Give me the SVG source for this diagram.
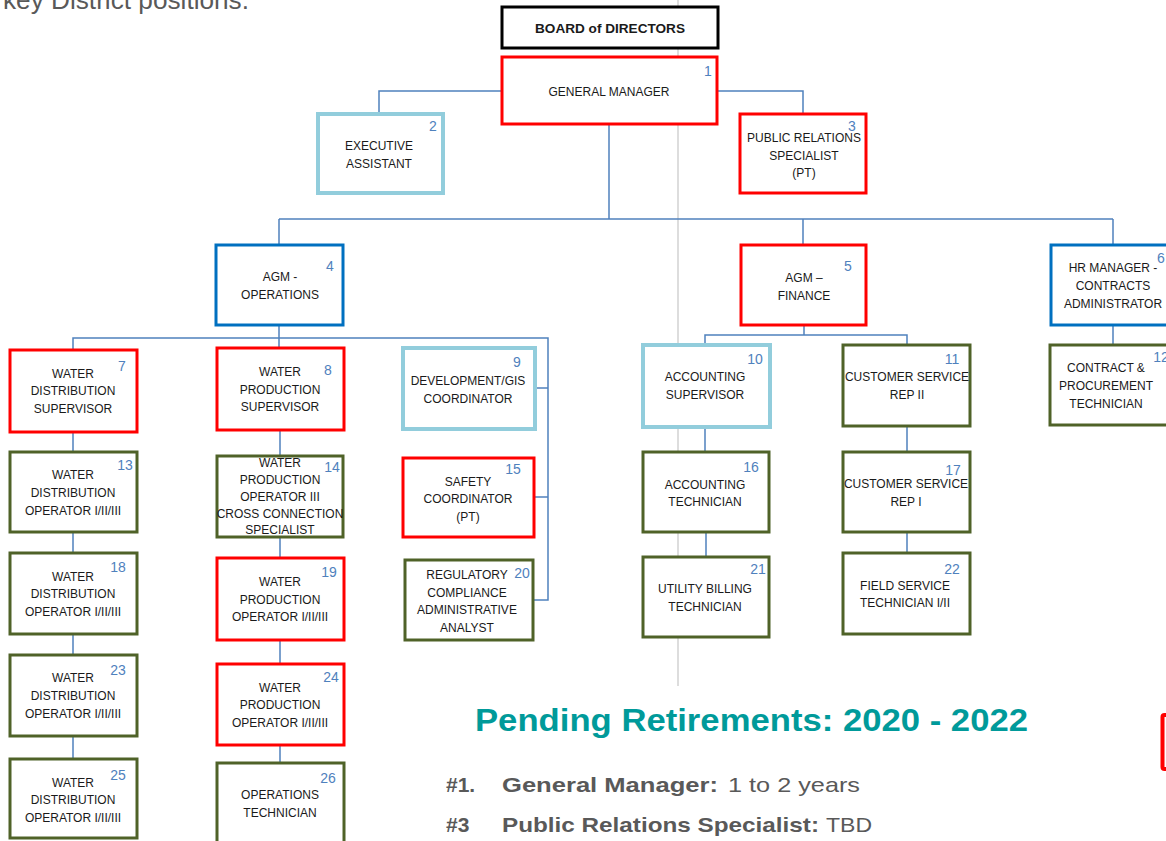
<svg xmlns="http://www.w3.org/2000/svg" width="1166" height="841" viewBox="0 0 1166 841">
  <style>
    .box { fill: #ffffff; stroke-width: 3; }
    .red { stroke: #ff0000; }
    .lblue { stroke: #92cddc; stroke-width: 4; }
    .blue { stroke: #0070c0; }
    .green { stroke: #4f6228; }
    .black { stroke: #000000; }
    .t { font-family: "Liberation Sans", Arial, sans-serif; font-size: 12px; fill: #1a1a1a; text-anchor: middle; }
    .n { font-family: "Liberation Sans", Arial, sans-serif; font-size: 14px; fill: #4f81bd; text-anchor: middle; }
    .conn { fill: none; stroke: #4f81bd; stroke-width: 1.5; }
    .gray { font-family: "Liberation Sans", Arial, sans-serif; fill: #595959; }
  </style>

  <rect width="1166" height="841" fill="#ffffff"/>

  <!-- slide divider -->
  <line x1="678" y1="0" x2="678" y2="686" stroke="#dddddd" stroke-width="2"/>

  <!-- heading remnant -->
  <text class="gray" x="3" y="9" font-size="25" textLength="246" lengthAdjust="spacingAndGlyphs">key District positions.</text>

  <!-- connectors -->
  <g id="connectors" class="conn">
    <polyline points="502,91 379,91 379,114"/>
    <polyline points="717,91 803,91 803,114"/>
    <line x1="609" y1="124" x2="609" y2="219"/>
    <line x1="279" y1="219" x2="1113" y2="219"/>
    <line x1="279" y1="219" x2="279" y2="245"/>
    <line x1="803" y1="219" x2="803" y2="245"/>
    <line x1="1113" y1="219" x2="1113" y2="245"/>
    <line x1="1113" y1="325" x2="1113" y2="345"/>
    <!-- operations branch -->
    <line x1="279" y1="325" x2="279" y2="348"/>
    <polyline points="73,350 73,338 548,338 548,600 533,600"/>
    <line x1="535" y1="388" x2="548" y2="388"/>
    <line x1="535" y1="497" x2="548" y2="497"/>
    <line x1="73" y1="432" x2="73" y2="452"/>
    <line x1="73" y1="532" x2="73" y2="553"/>
    <line x1="73" y1="634" x2="73" y2="655"/>
    <line x1="73" y1="736" x2="73" y2="759"/>
    <line x1="280" y1="430" x2="280" y2="456"/>
    <line x1="280" y1="537" x2="280" y2="558"/>
    <line x1="280" y1="640" x2="280" y2="664"/>
    <line x1="280" y1="745" x2="280" y2="763"/>
    <!-- finance branch -->
    <line x1="804" y1="325" x2="804" y2="335"/>
    <polyline points="705,345 705,335 907,335 907,345"/>
    <line x1="705" y1="427" x2="705" y2="452"/>
    <line x1="706" y1="532" x2="706" y2="557"/>
    <line x1="907" y1="426" x2="907" y2="452"/>
    <line x1="907" y1="532" x2="907" y2="553"/>
  </g>

  <g id="board">
    <rect class="box black" x="502" y="7" width="216" height="41"/>
    <text class="t" x="610" y="33" font-weight="bold" font-size="13.5" textLength="150" lengthAdjust="spacingAndGlyphs">BOARD of DIRECTORS</text>
  </g>

  <g id="n1">
    <rect class="box red" x="502" y="57" width="215" height="67"/>
    <text class="n" x="708" y="76">1</text>
    <text class="t" x="609" y="96" font-size="12.5">GENERAL MANAGER</text>
  </g>

  <g id="n2">
    <rect class="box lblue" x="318" y="114" width="125" height="79"/>
    <text class="n" x="433" y="131">2</text>
    <text class="t" x="379" y="150">EXECUTIVE</text>
    <text class="t" x="379" y="168">ASSISTANT</text>
  </g>

  <g id="n3">
    <rect class="box red" x="740" y="114" width="126" height="79"/>
    <text class="n" x="852" y="131">3</text>
    <text class="t" x="804" y="142">PUBLIC RELATIONS</text>
    <text class="t" x="804" y="160">SPECIALIST</text>
    <text class="t" x="804" y="177">(PT)</text>
  </g>

  <g id="n4">
    <rect class="box blue" x="216" y="245" width="127" height="80"/>
    <text class="n" x="330" y="271">4</text>
    <text class="t" x="280" y="281">AGM -</text>
    <text class="t" x="280" y="299">OPERATIONS</text>
  </g>

  <g id="n5">
    <rect class="box red" x="741" y="245" width="125" height="80"/>
    <text class="n" x="848" y="271">5</text>
    <text class="t" x="804" y="282">AGM –</text>
    <text class="t" x="804" y="300">FINANCE</text>
  </g>

  <g id="n6">
    <rect class="box blue" x="1051" y="245" width="130" height="80"/>
    <text class="n" x="1161" y="263">6</text>
    <text class="t" x="1113" y="272">HR MANAGER -</text>
    <text class="t" x="1113" y="290">CONTRACTS</text>
    <text class="t" x="1113" y="308">ADMINISTRATOR</text>
  </g>

  <g id="n12">
    <rect class="box green" x="1050" y="345" width="130" height="80"/>
    <text class="n" x="1161" y="362">12</text>
    <text class="t" x="1106" y="372">CONTRACT &amp;</text>
    <text class="t" x="1106" y="390">PROCUREMENT</text>
    <text class="t" x="1106" y="408">TECHNICIAN</text>
  </g>

  <g id="n7">
    <rect class="box red" x="10" y="350" width="127" height="82"/>
    <text class="n" x="122" y="371">7</text>
    <text class="t" x="73" y="378">WATER</text>
    <text class="t" x="73" y="395">DISTRIBUTION</text>
    <text class="t" x="73" y="413">SUPERVISOR</text>
  </g>

  <g id="n8">
    <rect class="box red" x="217" y="348" width="127" height="82"/>
    <text class="n" x="328" y="375">8</text>
    <text class="t" x="280" y="376">WATER</text>
    <text class="t" x="280" y="394">PRODUCTION</text>
    <text class="t" x="280" y="411">SUPERVISOR</text>
  </g>

  <g id="n9">
    <rect class="box lblue" x="403" y="348" width="132" height="81"/>
    <text class="n" x="517" y="367">9</text>
    <text class="t" x="468" y="385">DEVELOPMENT/GIS</text>
    <text class="t" x="468" y="403">COORDINATOR</text>
  </g>

  <g id="n10">
    <rect class="box lblue" x="643" y="345" width="127" height="82"/>
    <text class="n" x="755" y="364">10</text>
    <text class="t" x="705" y="381">ACCOUNTING</text>
    <text class="t" x="705" y="399">SUPERVISOR</text>
  </g>

  <g id="n11">
    <rect class="box green" x="843" y="345" width="127" height="81"/>
    <text class="n" x="952" y="364">11</text>
    <text class="t" x="907" y="381">CUSTOMER SERVICE</text>
    <text class="t" x="907" y="399">REP II</text>
  </g>

  <g id="n13">
    <rect class="box green" x="10" y="452" width="127" height="80"/>
    <text class="n" x="125" y="470">13</text>
    <text class="t" x="73" y="479">WATER</text>
    <text class="t" x="73" y="497">DISTRIBUTION</text>
    <text class="t" x="73" y="515">OPERATOR I/II/III</text>
  </g>

  <g id="n14">
    <rect class="box green" x="217" y="456" width="126" height="81"/>
    <text class="n" x="332" y="472">14</text>
    <text class="t" x="280" y="467">WATER</text>
    <text class="t" x="280" y="484">PRODUCTION</text>
    <text class="t" x="280" y="501">OPERATOR III</text>
    <text class="t" x="280" y="518">CROSS CONNECTION</text>
    <text class="t" x="280" y="534">SPECIALIST</text>
  </g>

  <g id="n15">
    <rect class="box red" x="403" y="458" width="131" height="79"/>
    <text class="n" x="513" y="474">15</text>
    <text class="t" x="468" y="486">SAFETY</text>
    <text class="t" x="468" y="503">COORDINATOR</text>
    <text class="t" x="468" y="521">(PT)</text>
  </g>

  <g id="n16">
    <rect class="box green" x="643" y="452" width="126" height="80"/>
    <text class="n" x="751" y="472">16</text>
    <text class="t" x="705" y="489">ACCOUNTING</text>
    <text class="t" x="705" y="506">TECHNICIAN</text>
  </g>

  <g id="n17">
    <rect class="box green" x="843" y="452" width="127" height="80"/>
    <text class="n" x="953" y="475">17</text>
    <text class="t" x="906" y="488">CUSTOMER SERVICE</text>
    <text class="t" x="906" y="506">REP I</text>
  </g>

  <g id="n18">
    <rect class="box green" x="10" y="553" width="127" height="81"/>
    <text class="n" x="118" y="572">18</text>
    <text class="t" x="73" y="581">WATER</text>
    <text class="t" x="73" y="598">DISTRIBUTION</text>
    <text class="t" x="73" y="616">OPERATOR I/II/III</text>
  </g>

  <g id="n19">
    <rect class="box red" x="217" y="558" width="127" height="82"/>
    <text class="n" x="329" y="577">19</text>
    <text class="t" x="280" y="586">WATER</text>
    <text class="t" x="280" y="604">PRODUCTION</text>
    <text class="t" x="280" y="621">OPERATOR I/II/III</text>
  </g>

  <g id="n20">
    <rect class="box green" x="405" y="560" width="128" height="80"/>
    <text class="n" x="522" y="578">20</text>
    <text class="t" x="467" y="579">REGULATORY</text>
    <text class="t" x="467" y="597">COMPLIANCE</text>
    <text class="t" x="467" y="614">ADMINISTRATIVE</text>
    <text class="t" x="467" y="632">ANALYST</text>
  </g>

  <g id="n21">
    <rect class="box green" x="643" y="557" width="126" height="80"/>
    <text class="n" x="758" y="574">21</text>
    <text class="t" x="705" y="593">UTILITY BILLING</text>
    <text class="t" x="705" y="611">TECHNICIAN</text>
  </g>

  <g id="n22">
    <rect class="box green" x="843" y="553" width="127" height="81"/>
    <text class="n" x="952" y="574">22</text>
    <text class="t" x="905" y="590">FIELD SERVICE</text>
    <text class="t" x="905" y="607">TECHNICIAN I/II</text>
  </g>

  <g id="n23">
    <rect class="box green" x="10" y="655" width="127" height="81"/>
    <text class="n" x="118" y="675">23</text>
    <text class="t" x="73" y="682">WATER</text>
    <text class="t" x="73" y="700">DISTRIBUTION</text>
    <text class="t" x="73" y="718">OPERATOR I/II/III</text>
  </g>

  <g id="n24">
    <rect class="box red" x="217" y="664" width="127" height="81"/>
    <text class="n" x="331" y="682">24</text>
    <text class="t" x="280" y="692">WATER</text>
    <text class="t" x="280" y="709">PRODUCTION</text>
    <text class="t" x="280" y="727">OPERATOR I/II/III</text>
  </g>

  <g id="n25">
    <rect class="box green" x="10" y="759" width="127" height="79"/>
    <text class="n" x="118" y="780">25</text>
    <text class="t" x="73" y="787">WATER</text>
    <text class="t" x="73" y="804">DISTRIBUTION</text>
    <text class="t" x="73" y="822">OPERATOR I/II/III</text>
  </g>

  <g id="n26">
    <rect class="box green" x="217" y="763" width="127" height="90"/>
    <text class="n" x="328" y="783">26</text>
    <text class="t" x="280" y="799">OPERATIONS</text>
    <text class="t" x="280" y="817">TECHNICIAN</text>
  </g>

  <!-- partly visible box at the right edge -->
  <rect x="1162.5" y="715" width="20" height="54" rx="2" fill="#ffffff" stroke="#ff0000" stroke-width="4"/>

  <!-- retirement notes -->
  <text x="475" y="731" font-family="'Liberation Sans', Arial, sans-serif" font-weight="bold" font-size="31" fill="#009a9a" textLength="553" lengthAdjust="spacingAndGlyphs">Pending Retirements:  2020 - 2022</text>
  <text class="gray" x="446" y="792" font-size="21" font-weight="bold">#1.</text>
  <text class="gray" x="502" y="792" font-size="21"><tspan font-weight="bold" textLength="216" lengthAdjust="spacingAndGlyphs">General Manager:</tspan><tspan x="728" textLength="132" lengthAdjust="spacingAndGlyphs">1 to 2 years</tspan></text>
  <text class="gray" x="446" y="832" font-size="21" font-weight="bold">#3</text>
  <text class="gray" x="502" y="832" font-size="21"><tspan font-weight="bold" textLength="317" lengthAdjust="spacingAndGlyphs">Public Relations Specialist:</tspan><tspan x="826" textLength="46" lengthAdjust="spacingAndGlyphs">TBD</tspan></text>
</svg>
